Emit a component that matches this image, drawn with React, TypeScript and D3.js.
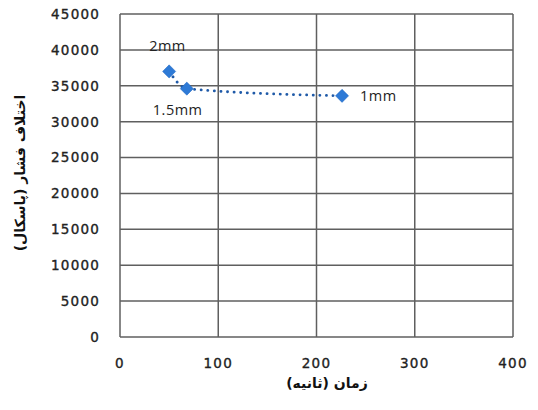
import React from "react";
import * as d3 from "d3";

const times = [50, 68, 226];
const pressures = [37000, 34600, 33600];
const labels = ["2mm", "1.5mm", "1mm"];
const xTicks = [0, 100, 200, 300, 400];
const yTicks = [0, 5000, 10000, 15000, 20000, 25000, 30000, 35000, 40000, 45000];
const xTitle = "زمان (ثانیه)";
const yTitle = "اختلاف فشار (پاسکال)";

const labelOffsets: [number, number, string][] = [
  [-20, -26, "start"],
  [-34, 21, "start"],
  [18, 0, "start"],
];

export default function App() {
  const W = 538, H = 410;
  const x = d3.scaleLinear().domain([0, 400]).range([120, 513]);
  const y = d3.scaleLinear().domain([0, 45000]).range([337, 14]);
  const pts = times.map((t, i) => [t, pressures[i]] as [number, number]);
  const line = d3
    .line<[number, number]>()
    .x((d) => x(d[0]))
    .y((d) => y(d[1]))
    .curve(d3.curveMonotoneX)(pts);
  const diamond = d3.symbol().type(d3.symbolDiamond2).size(110)();
  const grid = "#5f5f5f";
  const tickFont = "'DejaVu Sans', Verdana, sans-serif";
  return (
    <svg width={W} height={H} style={{ position: "absolute", left: 0, top: 0 }}>
      <rect width={W} height={H} fill="#fff" />
      {yTicks.map((v) => (
        <line key={"gy" + v} x1={x(0)} x2={x(400)} y1={y(v)} y2={y(v)} stroke={grid} strokeWidth={1.5} />
      ))}
      {xTicks.map((v) => (
        <line key={"gx" + v} x1={x(v)} x2={x(v)} y1={y(0)} y2={y(45000)} stroke={grid} strokeWidth={1.5} />
      ))}
      {yTicks.map((v) => (
        <text key={"ty" + v} x={100} y={y(v)} dy="0.36em" textAnchor="end" fontFamily={tickFont} fontSize={13.5} letterSpacing={1.2} fill="#222" stroke="#222" strokeWidth={0.35}>
          {v}
        </text>
      ))}
      {xTicks.map((v) => (
        <text key={"tx" + v} x={x(v)} y={363} dy="0.36em" textAnchor="middle" fontFamily={tickFont} fontSize={13.5} letterSpacing={1.2} fill="#222" stroke="#222" strokeWidth={0.35}>
          {v}
        </text>
      ))}
      <path d={line || ""} fill="none" stroke="#1f5aa8" strokeWidth={2.8} strokeDasharray="0.1 6.5" strokeLinecap="round" />
      {pts.map((p, i) => (
        <path key={"m" + i} d={diamond || ""} transform={`translate(${x(p[0])},${y(p[1])})`} fill="#2e7ad6" stroke="#1f66c2" strokeWidth={0.5} />
      ))}
      {pts.map((p, i) => (
        <text
          key={"l" + i}
          x={x(p[0]) + labelOffsets[i][0]}
          y={y(p[1]) + labelOffsets[i][1]}
          dy="0.36em"
          textAnchor={labelOffsets[i][2] as any}
          fontFamily="'Open Sans', 'Liberation Sans', sans-serif"
          fontSize={14.5}
          letterSpacing={0.5}
          fill="#222"
        >
          {labels[i]}
        </text>
      ))}
      <text x={327} y={383} dy="0.36em" textAnchor="middle" fontFamily="'DejaVu Sans', sans-serif" fontWeight="bold" fontSize={14} fill="#111" direction="rtl">
        {xTitle}
      </text>
      <text
        transform={`translate(20,${173}) rotate(-90)`}
        textAnchor="middle"
        dy="0.36em"
        fontFamily="'DejaVu Sans', sans-serif"
        fontWeight="bold"
        fontSize={14}
        fill="#111"
        direction="rtl"
      >
        {yTitle}
      </text>
    </svg>
  );
}
